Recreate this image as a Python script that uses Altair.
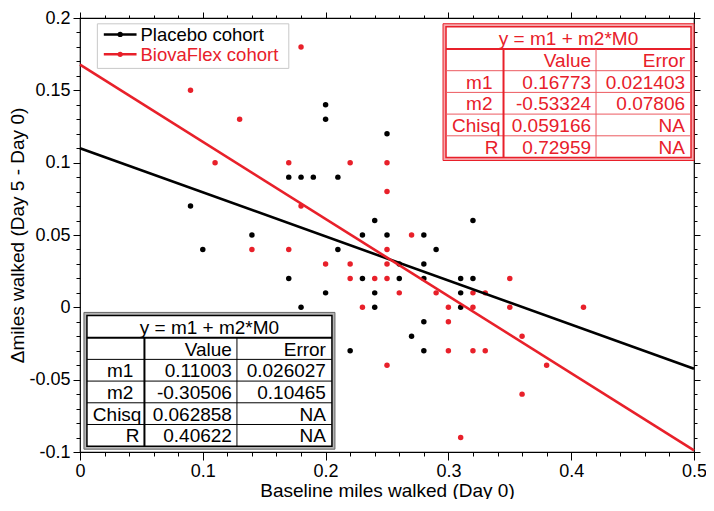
import json
import altair as alt
import pandas as pd

# ---------------- data ----------------
series_names = ["Placebo cohort", "BiovaFlex cohort"]
series_colors = ["#000000", "#e8202a"]

placebo_x = [0.09, 0.10, 0.14, 0.17, 0.17, 0.18, 0.18, 0.19, 0.20, 0.20, 0.20, 0.21, 0.21,
             0.22, 0.23, 0.23, 0.24, 0.24, 0.24, 0.25, 0.25, 0.26, 0.26, 0.27, 0.28, 0.28,
             0.28, 0.28, 0.28, 0.29, 0.31, 0.31, 0.31, 0.32, 0.32]
placebo_y = [0.07, 0.04, 0.05, 0.09, 0.02, 0.09, 0.00, 0.09, 0.14, 0.13, 0.01, 0.09, 0.04,
             -0.03, 0.05, 0.02, 0.06, 0.01, 0.00, 0.12, 0.05, 0.03, 0.02, -0.02, 0.05, 0.03,
             0.02, -0.01, -0.03, 0.04, 0.02, 0.01, 0.00, 0.06, 0.02]

biova_x = [0.09, 0.11, 0.13, 0.14, 0.17, 0.17, 0.18, 0.18, 0.20, 0.22, 0.22, 0.22, 0.23,
           0.24, 0.25, 0.25, 0.25, 0.25, 0.25, 0.25, 0.26, 0.27, 0.29, 0.30, 0.30, 0.30,
           0.31, 0.32, 0.32, 0.32, 0.33, 0.33, 0.35, 0.35, 0.36, 0.36, 0.38, 0.41]
biova_y = [0.15, 0.10, 0.13, 0.04, 0.10, 0.04, 0.18, 0.07, 0.03, 0.10, 0.03, 0.02, 0.00,
           0.02, 0.10, 0.08, 0.04, 0.03, 0.02, -0.04, 0.01, 0.05, 0.01, 0.00, -0.01, -0.03,
           -0.09, 0.01, 0.00, -0.03, 0.01, -0.03, 0.02, 0.00, -0.02, -0.06, -0.04, 0.00]

fit_m1 = [0.11003, 0.16773]
fit_m2 = [-0.30506, -0.53324]
fit_x_range = [0, 0.5]

table_title = "y = m1 + m2*M0"
table_header = ["", "Value", "Error"]
table_row_labels = ["m1", "m2", "Chisq", "R"]
placebo_values = ["0.11003", "-0.30506", "0.062858", "0.40622"]
placebo_errors = ["0.026027", "0.10465", "NA", "NA"]
biova_values = ["0.16773", "-0.53324", "0.059166", "0.72959"]
biova_errors = ["0.021403", "0.07806", "NA", "NA"]

x_major = [0, 0.1, 0.2, 0.3, 0.4, 0.5]
y_major = [-0.1, -0.05, 0, 0.05, 0.1, 0.15, 0.2]
x_all = [round(i * 0.02, 2) for i in range(0, 26)]
y_all = [round(-0.1 + i * 0.01, 2) for i in range(0, 31)]

x_title = "Baseline miles walked (Day 0)"
y_title = "\u0394miles walked (Day 5 - Day 0)"

FONT = "Liberation Sans"
PAD_L, PAD_T, PAD_R, PAD_B = 72, 10, 12, 47
W, H = 614, 434
# reference plot area on the page was 80..699 x 10..458; rescale overlay positions
SX, SY = W / 619.0, H / 448.0


def gx(page_x):
    return (page_x - 80) * SX


def gy(page_y):
    return (page_y - 10) * SY


# ---------------- tables built from the lists ----------------
pts = pd.concat([
    pd.DataFrame({"M0": placebo_x, "dM": placebo_y, "series": series_names[0]}),
    pd.DataFrame({"M0": biova_x, "dM": biova_y, "series": series_names[1]}),
], ignore_index=True)

fit_rows = []
for name, m1, m2 in zip(series_names, fit_m1, fit_m2):
    for xv in fit_x_range:
        fit_rows.append({"M0": xv, "dM": m1 + m2 * xv, "series": name})
fits = pd.DataFrame(fit_rows)

color_scale = alt.Scale(domain=series_names, range=series_colors)
xscale = alt.Scale(domain=[0, 0.5], nice=False, zero=False)
yscale = alt.Scale(domain=[-0.1, 0.2], nice=False, zero=False)


def axis(orient, values, majors, title, labels, big, small, **extra):
    test = "indexof(%s, datum.value) >= 0" % json.dumps(majors)
    kw = dict(
        orient=orient, values=values, grid=False, domain=False,
        tickColor="black", tickWidth=1,
        tickSize={"condition": {"test": test, "value": big}, "value": small},
        labelOverlap=False, labelFlush=False,
    )
    if labels:
        kw.update(labelExpr="%s ? '' + datum.value : ''" % test, title=title,
                  labelFont=FONT, labelFontSize=18, labelColor="black",
                  titleFont=FONT, titleFontSize=19, titleFontWeight="normal",
                  titleColor="black")
        kw.update(extra)
    else:
        kw.update(labels=False, title=None)
    return alt.Axis(**kw)


points = alt.Chart(pts).mark_circle(size=30, opacity=1).encode(
    x=alt.X("M0:Q", scale=xscale,
            axis=axis("bottom", x_all, x_major, x_title, True, 8, 4,
                      labelPadding=2, titleY=29, titleBaseline="top")),
    y=alt.Y("dM:Q", scale=yscale,
            axis=axis("left", y_all, y_major, y_title, True, 7, 4,
                      labelPadding=3, titlePadding=1)),
    color=alt.Color("series:N", scale=color_scale, legend=None),
)

lines = alt.Chart(fits).mark_line(strokeWidth=2.6).encode(
    x=alt.X("M0:Q", scale=xscale, axis=axis("top", x_all, x_major, None, False, 6, 3)),
    y=alt.Y("dM:Q", scale=yscale, axis=axis("right", y_all, y_major, None, False, 6, 3)),
    color=alt.Color("series:N", scale=color_scale, legend=None),
    detail="series:N",
)

one = pd.DataFrame({"k": [0]})


def rect(x0, x1, y0, y1, fill, stroke, sw):
    return alt.Chart(one).mark_rect(fill=fill, stroke=stroke, strokeWidth=sw).encode(
        x=alt.value(x0), x2=alt.value(x1), y=alt.value(y0), y2=alt.value(y1))


def hrule(x0, x1, y, color, sw):
    return alt.Chart(one).mark_rule(color=color, strokeWidth=sw).encode(
        x=alt.value(x0), x2=alt.value(x1), y=alt.value(y))


def vrule(x, y0, y1, color, sw):
    return alt.Chart(one).mark_rule(color=color, strokeWidth=sw).encode(
        x=alt.value(x), y=alt.value(y0), y2=alt.value(y1))


def text(x, y, s, color, align, size=19):
    return alt.Chart(one).mark_text(
        text=s, align=align, baseline="middle", font=FONT, fontSize=size, color=color
    ).encode(x=alt.value(x), y=alt.value(y))


def table(left, top, outer, band, inner, thin, tcolor, values, errors):
    TW, hh, rh = 245, 23 * SY, 22.4 * SY
    TH = hh + 5 * rh
    c1, c2 = left + 57.5, left + 150
    out = [
        rect(left - 3, left + TW + 3, top - 3, top + TH + 3, band, outer, 1),
        rect(left, left + TW, top, top + TH, "white", inner, 1.5),
        hrule(left, left + TW, top + hh, inner, 2),
    ]
    for r in range(1, 5):
        out.append(hrule(left, left + TW, top + hh + r * rh, thin, 1))
    out.append(vrule(c1, top + hh, top + TH, inner, 2))
    out.append(vrule(c2, top + hh, top + TH, thin, 1))
    out.append(text(left + TW / 2, top + hh / 2 + 1, table_title, tcolor, "center"))
    rows = [table_header] + [[lab, v, e] for lab, v, e in zip(table_row_labels, values, errors)]
    for r, row in enumerate(rows):
        yc = top + hh + r * rh + rh / 2 + 1
        lab = row[0]
        pad = 11 if lab in ("m1", "m2") else (3 if lab == "Chisq" else 5)
        if lab:
            out.append(text(c1 - pad, yc, lab, tcolor, "right"))
        out.append(text(c2 - 5, yc, row[1], tcolor, "right"))
        out.append(text(left + TW - 6, yc, row[2], tcolor, "right"))
    return out


layers = [points, lines]
layers += table(gx(87), gy(317), "#666666", "#b5b5b5", "#000000", "#000000", "#000000",
                placebo_values, placebo_errors)
layers += table(gx(449), gy(19), series_colors[1], "#f6a9ac", series_colors[1], "#ec5a60",
                series_colors[1], biova_values, biova_errors)

# legend box
layers.append(rect(gx(97.5), gx(290.5), gy(16), gy(62), "white", "#c8c8c8", 1))
for i, (name, col) in enumerate(zip(series_names, series_colors)):
    ry = gy(27 + i * 20.5)
    layers.append(hrule(gx(104), gx(137), ry, col, 2.5))
    layers.append(alt.Chart(one).mark_circle(size=28, opacity=1, color=col).encode(
        x=alt.value(gx(120.5)), y=alt.value(ry)))
    layers.append(text(gx(141), ry + 1, name, col, "left", 18.5))

chart = alt.layer(*layers).resolve_axis(x="independent", y="independent").properties(
    width=W, height=H,
    padding={"left": PAD_L, "top": PAD_T, "right": PAD_R, "bottom": PAD_B},
    autosize=alt.AutoSizeParams(type="none"),
    background="white",
).configure_view(stroke="black", strokeWidth=1.2)

chart.save("out.html", embed_options={"renderer": "svg", "actions": False})
